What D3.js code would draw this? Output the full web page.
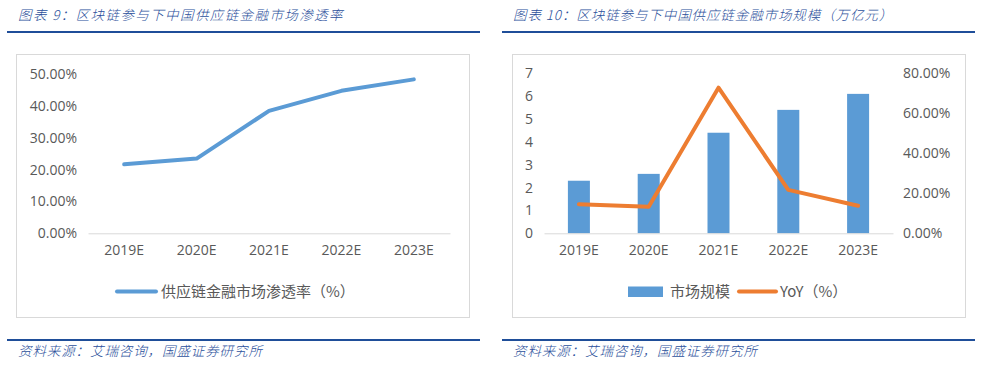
<!DOCTYPE html>
<html><head><meta charset="utf-8">
<script src="https://cdn.jsdelivr.net/npm/d3@7"></script>
<style>
html,body{margin:0;padding:0;background:#fff;}
svg{display:block;}
</style></head>
<body><svg id="c" width="991" height="368"></svg>
<script>
const categories = ["2019E","2020E","2021E","2022E","2023E"];
const penetration = [0.217, 0.235, 0.385, 0.448, 0.484];
const marketSize = [2.3, 2.6, 4.4, 5.4, 6.1];
const yoy = [0.145, 0.133, 0.728, 0.217, 0.138];
const leftTicks = [0, 0.1, 0.2, 0.3, 0.4, 0.5];
const barTicks = [0,1,2,3,4,5,6,7];
const yoyTicks = [0, 0.2, 0.4, 0.6, 0.8];
const title1 = "图表 9：区块链参与下中国供应链金融市场渗透率";
const title2 = "图表 10：区块链参与下中国供应链金融市场规模（万亿元）";
const source = "资料来源：艾瑞咨询，国盛证券研究所";
const legend1 = "供应链金融市场渗透率（%）";
const legendBar = "市场规模";
const legendYoy = "YoY（%）";

const svg = d3.select("#c");
const BLUE_T = "#2b4f9b", RULE = "#1f4e99", GRAY = "#595959";
const FONT = "'Open Sans','Noto Sans CJK SC',sans-serif";
const CJK = "'Noto Sans CJK SC','Open Sans',sans-serif";
const fmtPct = d3.format(".2%");

function frame(g, x0, x1, title, ls) {
  g.append("text").attr("x", x0+11).attr("y", 20).text(title)
    .attr("font-family", CJK).attr("font-style","italic").attr("font-size", 13.5)
    .attr("font-weight", 300).attr("letter-spacing", ls)
    .attr("fill", BLUE_T);
  g.append("rect").attr("x", x0).attr("y", 31).attr("width", x1-x0).attr("height", 2).attr("fill", RULE);
  g.append("rect").attr("x", x0).attr("y", 339).attr("width", x1-x0).attr("height", 2).attr("fill", RULE);
  g.append("text").attr("x", x0+11).attr("y", 356).text(source)
    .attr("font-family", CJK).attr("font-style","italic").attr("font-size", 13.5)
    .attr("font-weight", 300).attr("letter-spacing", 0.9)
    .attr("fill", BLUE_T);
}

// ---------- Left chart ----------
{
  const g = svg.append("g");
  frame(g, 7, 480, title1, 1.4);
  g.append("rect").attr("x",16.5).attr("y",54.5).attr("width",453).attr("height",263)
    .attr("fill","#fff").attr("stroke","#d9d9d9");
  const x = d3.scaleBand().domain(categories).range([88, 450]);
  const y = d3.scaleLinear().domain([0, 0.5]).range([233.3, 74.3]);
  const ya = g.append("g").attr("transform","translate(88,0)")
    .call(d3.axisLeft(y).tickValues(leftTicks).tickFormat(fmtPct).tickSize(0).tickPadding(11));
  ya.select(".domain").remove();
  ya.selectAll("text").attr("font-family",FONT).attr("font-size",14).attr("fill",GRAY);
  const xa = g.append("g").attr("transform","translate(0,233.3)")
    .call(d3.axisBottom(x).tickSize(0).tickPadding(12));
  xa.select(".domain").attr("stroke","#d9d9d9");
  xa.selectAll("text").attr("font-family",FONT).attr("font-size",14).attr("fill",GRAY);
  const line = d3.line().x((d,i)=>x(categories[i])+x.bandwidth()/2).y(d=>y(d));
  g.append("path").datum(penetration).attr("d",line).attr("fill","none")
    .attr("stroke","#5b9bd5").attr("stroke-width",4).attr("stroke-linejoin","round").attr("stroke-linecap","round");
  g.append("line").attr("x1",117).attr("x2",156).attr("y1",291.5).attr("y2",291.5)
    .attr("stroke","#5b9bd5").attr("stroke-width",4).attr("stroke-linecap","round");
  g.append("text").attr("x",161).attr("y",297).text(legend1)
    .attr("font-family",CJK).attr("font-size",15).attr("fill",GRAY);
}

// ---------- Right chart ----------
{
  const g = svg.append("g");
  frame(g, 502, 975, title2, 0.9);
  g.append("rect").attr("x",512.5).attr("y",54.5).attr("width",453).attr("height",263)
    .attr("fill","#fff").attr("stroke","#d9d9d9");
  const x = d3.scaleBand().domain(categories).range([544, 893]);
  const y = d3.scaleLinear().domain([0, 7]).range([233.3, 73.3]);
  const y2 = d3.scaleLinear().domain([0, 0.8]).range([233.3, 73.3]);
  const ya = g.append("g").attr("transform","translate(544,0)")
    .call(d3.axisLeft(y).tickValues(barTicks).tickFormat(d3.format("d")).tickSize(0).tickPadding(11));
  ya.select(".domain").remove();
  ya.selectAll("text").attr("font-family",FONT).attr("font-size",14).attr("fill",GRAY);
  const yb = g.append("g").attr("transform","translate(893,0)")
    .call(d3.axisRight(y2).tickValues(yoyTicks).tickFormat(fmtPct).tickSize(0).tickPadding(10));
  yb.select(".domain").remove();
  yb.selectAll("text").attr("font-family",FONT).attr("font-size",14).attr("fill",GRAY);
  const bw = 22;
  g.selectAll("rect.bar").data(marketSize).enter().append("rect").attr("class","bar")
    .attr("x",(d,i)=>x(categories[i])+x.bandwidth()/2-bw/2).attr("width",bw)
    .attr("y",d=>y(d)).attr("height",d=>y(0)-y(d)).attr("fill","#5b9bd5");
  const xa = g.append("g").attr("transform","translate(0,233.3)")
    .call(d3.axisBottom(x).tickSize(0).tickPadding(12));
  xa.select(".domain").attr("stroke","#d9d9d9");
  xa.selectAll("text").attr("font-family",FONT).attr("font-size",14).attr("fill",GRAY);
  const line = d3.line().x((d,i)=>x(categories[i])+x.bandwidth()/2).y(d=>y2(d));
  g.append("path").datum(yoy).attr("d",line).attr("fill","none")
    .attr("stroke","#ed7d31").attr("stroke-width",4).attr("stroke-linejoin","round").attr("stroke-linecap","round");
  g.append("rect").attr("x",628).attr("y",286.5).attr("width",35).attr("height",10.5).attr("fill","#5b9bd5");
  g.append("text").attr("x",670).attr("y",297).text(legendBar)
    .attr("font-family",CJK).attr("font-size",15).attr("fill",GRAY);
  g.append("line").attr("x1",739).attr("x2",776).attr("y1",291.5).attr("y2",291.5)
    .attr("stroke","#ed7d31").attr("stroke-width",4).attr("stroke-linecap","round");
  g.append("text").attr("x",780).attr("y",297).text(legendYoy)
    .attr("font-family",CJK).attr("font-size",15).attr("fill",GRAY);
}
</script></body></html>
